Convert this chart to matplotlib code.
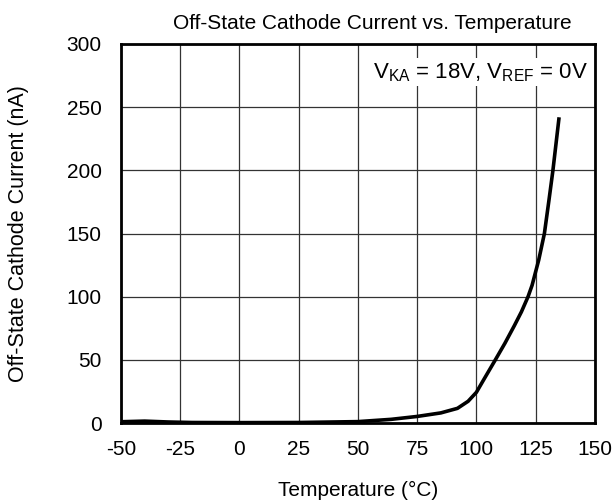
import matplotlib
matplotlib.use("Agg")
import matplotlib.pyplot as plt

plt.rcParams['font.family'] = ['Liberation Sans', 'DejaVu Sans']
plt.rcParams['mathtext.fontset'] = 'custom'
plt.rcParams['mathtext.rm'] = 'Liberation Sans'
plt.rcParams['mathtext.it'] = 'Liberation Sans'

temp_c = [-50, -40, -30, -20, 0, 25, 50, 64, 75, 85, 92, 96.5, 100,
          103, 108, 112, 116, 119, 121.8, 123.5, 126.3, 128.7, 130.6, 132.3, 134.9]
current_na = [1, 1.5, 0.8, 0.4, 0.3, 0.4, 1.1, 2.9, 5.2, 8, 11.6, 17.2, 24.3,
              34, 50, 63, 77, 88, 100, 109, 129, 150, 176, 200, 242]

x_ticks = [-50, -25, 0, 25, 50, 75, 100, 125, 150]
y_ticks = [0, 50, 100, 150, 200, 250, 300]

fig = plt.figure(figsize=(6.12, 5.04), dpi=100)
ax = fig.add_axes([0.1977, 0.1607, 0.972 - 0.1977, 0.9127 - 0.1607])

ax.plot(temp_c, current_na, color='black', linewidth=2.6,
        solid_joinstyle='round', solid_capstyle='butt')

ax.set_xlim(-50, 150)
ax.set_ylim(0, 300)
ax.set_xticks(x_ticks)
ax.set_yticks(y_ticks)
ax.set_xticklabels([str(t) for t in x_ticks])
ax.tick_params(length=0, labelsize=15)
ax.tick_params(axis='x', pad=12)
ax.tick_params(axis='y', pad=14)
ax.grid(True, color='#333333', linewidth=0.9)
ax.set_axisbelow(True)
for s in ax.spines.values():
    s.set_linewidth(2)
    s.set_color('black')

ax.set_title('Off-State Cathode Current vs. Temperature', fontsize=15, pad=11, x=0.53)
ax.set_xlabel('Temperature (°C)', fontsize=15, labelpad=16)
ax.set_ylabel('Off-State Cathode Current (nA)', fontsize=15.5, labelpad=27)

ax.text(0.985, 0.955, r'V$_{\mathregular{KA}}$ = 18V, V$_{\mathregular{REF}}$ = 0V',
        transform=ax.transAxes, ha='right', va='top', fontsize=16,
        bbox=dict(facecolor='white', edgecolor='none', pad=2))

fig.savefig('out.png', dpi=100)
